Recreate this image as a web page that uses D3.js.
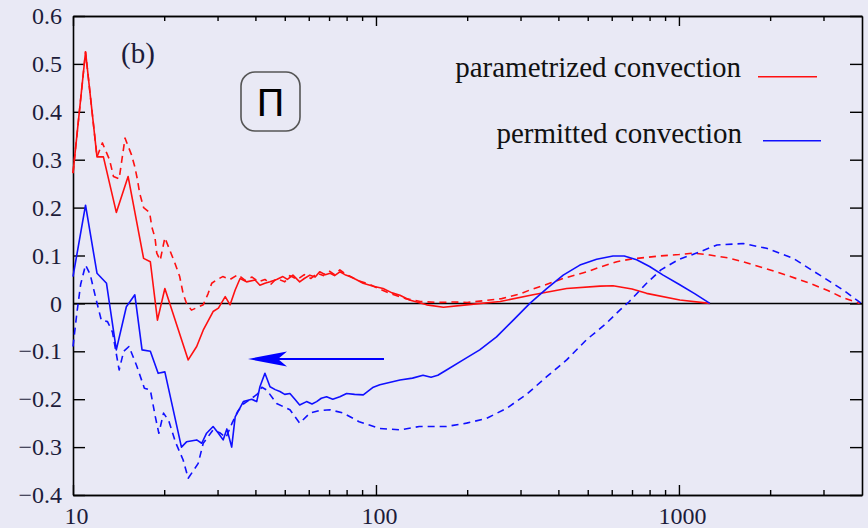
<!DOCTYPE html>
<html>
<head>
<meta charset="utf-8">
<script src="https://cdn.jsdelivr.net/npm/d3@7/dist/d3.min.js"></script>
<style>
  body { margin: 0; background: #e9e9f5; }
  svg { display: block; }
</style>
</head>
<body>
<div id="vis"></div>
<script>
// wavenumber k (log axis) and flux value for each curve
const paramSolid = [
  [10,0.272],[11,0.525],[12,0.306],[12.6,0.306],[13.9,0.19],[15.2,0.265],[17.1,0.094],[18,0.087],
  [19,-0.035],[20.1,0.031],[24,-0.118],[25.6,-0.09],[26.9,-0.056],[29,-0.017],[30.2,-0.01],
  [31.8,0.014],[33,-0.003],[34.3,0.028],[35.6,0.052],[37.4,0.045],[39.9,0.049],[41.4,0.038],
  [43,0.042],[44.7,0.045],[47,0.05],[49.3,0.056],[51,0.05],[53.2,0.059],[56,0.045],[58,0.052],
  [60.5,0.059],[63,0.055],[65.2,0.066],[68,0.06],[70.6,0.063],[73,0.058],[76,0.066],[79,0.06],
  [82,0.056],[86,0.05],[90.7,0.042],[98,0.036],[105.6,0.031],[113,0.022],[120,0.017],[129,0.007],
  [147,-0.003],[167,-0.008],[199,-0.003],[257,0.004],[330,0.018],[426,0.031],[549,0.036],
  [606,0.037],[700,0.03],[782,0.021],[1007,0.007],[1265,0]
];
const paramDashed = [
  [10,0.272],[11,0.525],[12,0.306],[12.5,0.335],[13.2,0.3],[13.6,0.265],[14.2,0.26],[14.85,0.345],
  [15.6,0.31],[16,0.285],[16.3,0.26],[16.6,0.23],[17.1,0.2],[17.9,0.19],[18.2,0.16],[18.65,0.137],
  [18.9,0.105],[19.4,0.09],[20.1,0.137],[20.9,0.11],[21.7,0.084],[22.5,0.056],[23.1,0.02],
  [23.7,0.0],[24.6,-0.014],[26.9,-0.003],[27.9,0.02],[28.7,0.042],[29.8,0.049],[31.2,0.056],
  [33,0.05],[35,0.06],[37,0.048],[39,0.055],[41,0.045],[43,0.05],[45,0.04],[47,0.052],[50,0.045],
  [52,0.058],[55,0.05],[58,0.06],[61,0.052],[64,0.063],[67,0.058],[70,0.068],[73,0.06],[76,0.07],
  [79,0.062],[83,0.055],[88,0.047],[95,0.04],[103,0.03],[112,0.02],[125,0.01],[140,0.004],
  [160,0.002],[180,0.003],[200,0.002],[230,0.006],[260,0.01],[300,0.02],[322,0.028],[360,0.038],
  [414,0.052],[497,0.066],[550,0.076],[624,0.087],[700,0.093],[865,0.099],[1000,0.102],
  [1112,0.105],[1265,0.101],[1450,0.095],[1626,0.087],[2100,0.066],[2704,0.042],[3100,0.027],
  [3475,0.012],[3950,0]
];
const permSolid = [
  [10,0.056],[11,0.205],[12,0.063],[12.9,0.042],[13.9,-0.097],[15,-0.007],[16,0.018],[16.9,-0.097],
  [18,-0.1],[19.1,-0.146],[20.1,-0.143],[22.8,-0.3],[23.7,-0.289],[25.6,-0.285],[26.6,-0.292],
  [27.6,-0.271],[29,-0.257],[30.2,-0.271],[31.3,-0.285],[32.2,-0.262],[33.4,-0.3],[34.3,-0.237],
  [36.5,-0.205],[38.9,-0.2],[40.4,-0.205],[41.4,-0.174],[43,-0.146],[44.7,-0.174],[46.5,-0.18],
  [48.2,-0.184],[50,-0.19],[52,-0.188],[54,-0.2],[56,-0.212],[59,-0.205],[61.5,-0.21],
  [63.7,-0.205],[66,-0.198],[68.7,-0.195],[72,-0.2],[76,-0.195],[80,-0.188],[85,-0.19],
  [90.8,-0.191],[98,-0.175],[103,-0.17],[120,-0.16],[132,-0.156],[143,-0.15],[152,-0.154],
  [160,-0.15],[171,-0.139],[194,-0.118],[220,-0.097],[250,-0.07],[284,-0.035],[322,0],[366,0.031],
  [415,0.059],[471,0.08],[535,0.092],[606,0.099],[660,0.099],[725,0.091],[800,0.077],[887,0.059],
  [1000,0.04],[1130,0.02],[1265,0]
];
const permDashed = [
  [10,-0.09],[10.3,-0.02],[10.6,0.04],[11,0.08],[11.4,0.06],[11.9,0.01],[12.4,-0.035],[13,-0.038],
  [13.5,-0.06],[14.2,-0.139],[14.7,-0.1],[15.3,-0.09],[16.2,-0.129],[17.2,-0.177],[18,-0.181],
  [18.7,-0.237],[19.2,-0.271],[19.9,-0.229],[20.7,-0.245],[21.8,-0.29],[23.1,-0.327],[24,-0.365],
  [25.9,-0.334],[26.9,-0.292],[29,-0.264],[30.5,-0.27],[32,-0.28],[33.5,-0.25],[35,-0.225],
  [36.5,-0.21],[38.5,-0.2],[40.5,-0.19],[42,-0.175],[43.6,-0.181],[47,-0.209],[52,-0.222],
  [56,-0.25],[60.5,-0.229],[65,-0.224],[70.6,-0.222],[78,-0.229],[88,-0.247],[103,-0.261],
  [120,-0.264],[139,-0.257],[171,-0.257],[199,-0.25],[232,-0.24],[270,-0.219],[314,-0.19],
  [366,-0.153],[426,-0.118],[495,-0.076],[575,-0.042],[638,-0.014],[686,0.004],[782,0.042],
  [872,0.07],[1000,0.092],[1143,0.105],[1335,0.122],[1630,0.125],[1946,0.115],[2383,0.094],
  [2918,0.059],[3483,0.028],[4000,0]
];

const yTicks = [-0.4, -0.3, -0.2, -0.1, 0, 0.1, 0.2, 0.3, 0.4, 0.5, 0.6];
const xMajor = [10, 100, 1000];
const xMinor = [20,30,40,50,60,70,80,90,200,300,400,500,600,700,800,900,2000,3000];
const legendNames = ["parametrized convection", "permitted convection"];

const W = 868, H = 528;
const MARGINS = {left: 73, right: 6, top: 16, bottom: 33};
const SERIF = "'Liberation Serif', 'Times New Roman', serif";

const svg = d3.select("#vis").append("svg")
  .attr("width", W).attr("height", H);

svg.append("rect").attr("width", W).attr("height", H).attr("fill", "#e9e9f5");

const X = d3.scaleLog().domain([10, 4020]).range([MARGINS.left, W - MARGINS.right]);
const Y = d3.scaleLinear().domain([-0.4, 0.6]).range([H - MARGINS.bottom, MARGINS.top]);

const fmtY = v => v === 0 ? "0" : (v < 0 ? "\u2212" : "") + Math.abs(v).toFixed(1);

function styleAxis(g) {
  g.attr("font-family", SERIF);
  g.select(".domain").attr("stroke", "#000").attr("stroke-width", 1.6);
  g.selectAll(".tick line").attr("stroke", "#000").attr("stroke-width", 1.4);
  g.selectAll("text").attr("font-family", SERIF).attr("font-size", 24).attr("fill", "#1c1c3a");
}

// bottom: majors with labels, minors without
svg.append("g").attr("transform", `translate(0,${Y(-0.4)})`)
  .call(d3.axisBottom(X).tickValues(xMajor).tickSize(-10).tickSizeOuter(0)
    .tickPadding(12).tickFormat(d3.format("d")))
  .call(styleAxis)
  .selectAll("text").attr("dx", 3);
svg.append("g").attr("transform", `translate(0,${Y(-0.4)})`)
  .call(d3.axisBottom(X).tickValues(xMinor).tickSize(-5).tickSizeOuter(0).tickFormat(""))
  .call(styleAxis);

// top mirror
svg.append("g").attr("transform", `translate(0,${Y(0.6)})`)
  .call(d3.axisTop(X).tickValues(xMajor).tickSize(-10).tickSizeOuter(0).tickFormat(""))
  .call(styleAxis);
svg.append("g").attr("transform", `translate(0,${Y(0.6)})`)
  .call(d3.axisTop(X).tickValues(xMinor).tickSize(-5).tickSizeOuter(0).tickFormat(""))
  .call(styleAxis);

// left and right
svg.append("g").attr("transform", `translate(${X(10)},0)`)
  .call(d3.axisLeft(Y).tickValues(yTicks).tickSize(-12).tickSizeOuter(0)
    .tickPadding(11).tickFormat(fmtY))
  .call(styleAxis);
svg.append("g").attr("transform", `translate(${X(4020)},0)`)
  .call(d3.axisRight(Y).tickValues(yTicks).tickSize(-12).tickSizeOuter(0).tickFormat(""))
  .call(styleAxis);

// zero line
svg.append("line")
  .attr("x1", X(10)).attr("x2", X(4020))
  .attr("y1", Y(0)).attr("y2", Y(0))
  .attr("stroke", "#000").attr("stroke-width", 1.5);

const line = d3.line().x(d => X(d[0])).y(d => Y(d[1]));

const curves = [
  {data: paramSolid, color: "#ff1010", dash: null},
  {data: paramDashed, color: "#ff1010", dash: "7,5"},
  {data: permSolid, color: "#1010ff", dash: null},
  {data: permDashed, color: "#1010ff", dash: "7,5"}
];
curves.forEach(c => {
  svg.append("path")
    .datum(c.data)
    .attr("d", line)
    .attr("fill", "none")
    .attr("stroke", c.color)
    .attr("stroke-width", 1.6)
    .attr("stroke-linejoin", "round")
    .attr("stroke-dasharray", c.dash);
});

// panel label
svg.append("text").attr("x", 121).attr("y", 63)
  .attr("font-family", SERIF).attr("font-size", 29).attr("fill", "#1c1c3a")
  .text("(b)");

// Pi box
svg.append("rect").attr("x", 241).attr("y", 72).attr("width", 59).attr("height", 59)
  .attr("rx", 14).attr("fill", "none").attr("stroke", "#555").attr("stroke-width", 1.6);
svg.append("text").attr("x", 270.5).attr("y", 116)
  .attr("text-anchor", "middle")
  .attr("font-family", "'DejaVu Sans', sans-serif").attr("font-size", 38).attr("fill", "#000")
  .text("\u03A0");

// legend
const legendRows = [
  {name: legendNames[0], color: "#ff1010", ty: 77, ly: 76.7, tx: 741, lx1: 758, lx2: 817},
  {name: legendNames[1], color: "#1010ff", ty: 143, ly: 140.7, tx: 742, lx1: 763, lx2: 821}
];
legendRows.forEach(r => {
  svg.append("text").attr("x", r.tx).attr("y", r.ty)
    .attr("text-anchor", "end")
    .attr("font-family", SERIF).attr("font-size", 29).attr("fill", "#111")
    .text(r.name);
  svg.append("line").attr("x1", r.lx1).attr("x2", r.lx2)
    .attr("y1", r.ly).attr("y2", r.ly)
    .attr("stroke", r.color).attr("stroke-width", 1.6);
});

// arrow
svg.append("line").attr("x1", 384).attr("x2", 275).attr("y1", 359).attr("y2", 359)
  .attr("stroke", "#0000ff").attr("stroke-width", 2);
svg.append("path")
  .attr("d", "M248,359 L287,351.5 L278,359 L287,366.5 Z")
  .attr("fill", "#0000ff");
</script>
</body>
</html>
